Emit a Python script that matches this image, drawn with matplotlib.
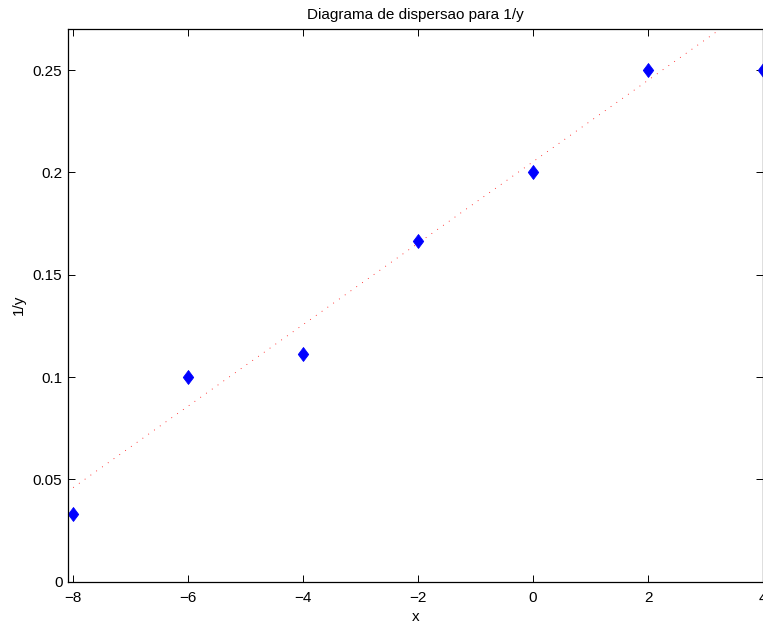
import numpy as np
import matplotlib
matplotlib.use('Agg')
import matplotlib.pyplot as plt

# data
x = [-8, -6, -4, -2, 0, 2, 4]
inv_y = [0.0333, 0.1, 0.1111, 0.1667, 0.2, 0.25, 0.25]
# fitted line (slope, intercept)
fit = [0.0199, 0.2052]

plt.rcParams['font.family'] = ['Liberation Sans', 'DejaVu Sans']
plt.rcParams['font.size'] = 11

fig = plt.figure(figsize=(7.63, 6.24), dpi=100)
ax = fig.add_axes([68 / 763, 42.3 / 624, 695 / 763, 553.2 / 624])

xl = np.array([-8, 4])
ax.plot(xl, np.polyval(fit, xl), color='red', lw=0.6, linestyle=(0, (1, 7.5)))

diamond = [(0, 1), (0.75, 0), (0, -1), (-0.75, 0), (0, 1)]
ax.plot(x, inv_y, linestyle='none', marker=diamond, markersize=10,
        color='blue', markeredgewidth=0.6, clip_on=False)

ax.set_xlim(-8.09, 4)
ax.set_ylim(0, 0.2703)
ax.set_xticks([-8, -6, -4, -2, 0, 2, 4])
ax.set_yticks([0, 0.05, 0.1, 0.15, 0.2, 0.25])
ax.set_yticklabels(['0', '0.05', '0.1', '0.15', '0.2', '0.25'])
ax.tick_params(direction='in', length=5, width=0.7, top=True, right=True)
ax.tick_params(axis='x', pad=7)
ax.tick_params(axis='y', pad=4)
for s in ax.spines.values():
    s.set_linewidth(0.9)

ax.set_title('Diagrama de dispersao para 1/y', fontsize=11, pad=7)
ax.set_xlabel('x', labelpad=3)
ax.set_ylabel('1/y', labelpad=5)

fig.savefig('out.png', dpi=100)
